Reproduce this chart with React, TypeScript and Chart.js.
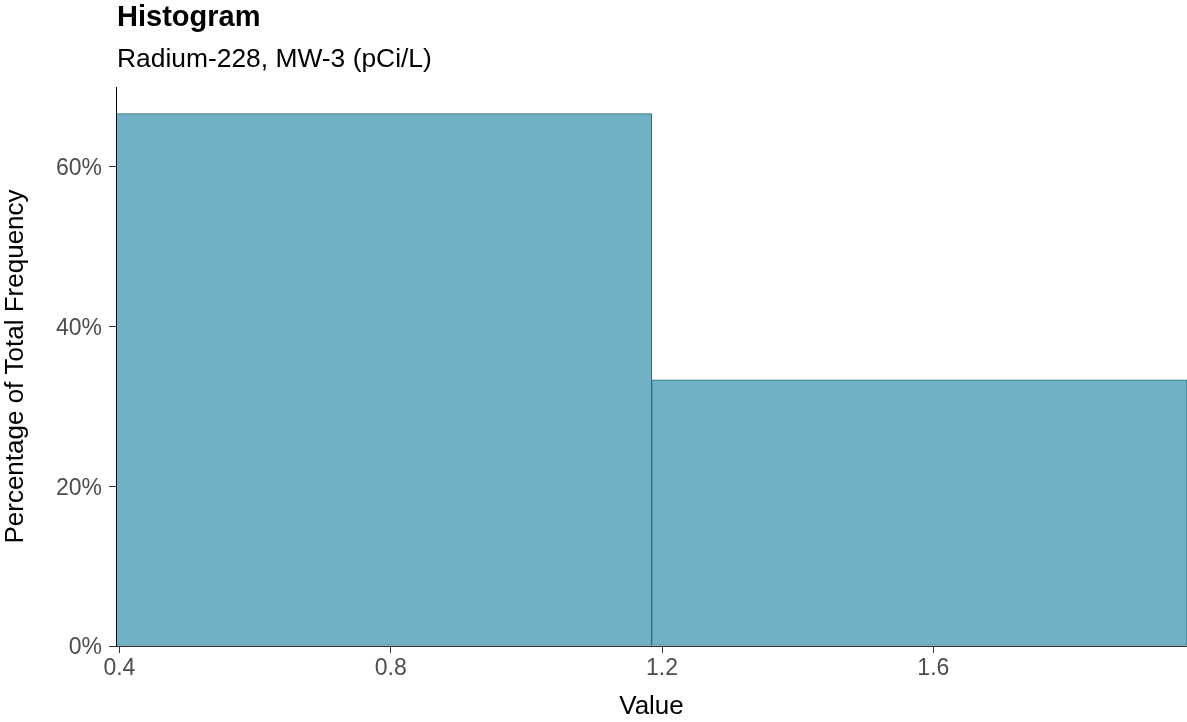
import React, { useEffect, useRef } from "react";
import { Chart, registerables } from "chart.js";

Chart.register(...registerables);

const TITLE = "Histogram";
const SUBTITLE = "Radium-228, MW-3 (pCi/L)";
const X_TITLE = "Value";
const Y_TITLE = "Percentage of Total Frequency";
const BIN_EDGES = [0.395, 1.185, 1.974];
const BIN_PERCENT = [66.67, 33.33];
const X_TICKS = [0.4, 0.8, 1.2, 1.6];
const Y_TICKS = [0, 20, 40, 60];
const Y_MAX = 70;

const FONT = "'Liberation Sans', Arial, Helvetica, sans-serif";

export default function App() {
  const ref = useRef<HTMLCanvasElement>(null);

  useEffect(() => {
    const canvas = ref.current;
    if (!canvas) return;
    const data = BIN_PERCENT.map((p, i) => ({
      x: (BIN_EDGES[i] + BIN_EDGES[i + 1]) / 2,
      y: p,
    }));
    const xMin = BIN_EDGES[0];
    const xMax = BIN_EDGES[BIN_EDGES.length - 1];

    const titlePlugin = {
      id: "ggTitle",
      afterDraw(chart: any) {
        const { ctx, chartArea } = chart;
        ctx.save();
        ctx.fillStyle = "#000000";
        ctx.textAlign = "left";
        ctx.textBaseline = "alphabetic";
        ctx.font = `bold 29px ${FONT}`;
        ctx.fillText(TITLE, chartArea.left + 1, 26);
        ctx.font = `26.4px ${FONT}`;
        ctx.fillText(SUBTITLE, chartArea.left + 1, 67);
        ctx.restore();
      },
    };

    const chart = new Chart(canvas, {
      type: "bar",
      data: {
        datasets: [
          {
            data,
            xAxisID: "xb",
            yAxisID: "y",
            backgroundColor: "#71B1C6",
            borderColor: "#2C6F83",
            borderWidth: 1,
            borderSkipped: false,
            categoryPercentage: 1,
            barPercentage: 1,
          } as any,
        ],
      },
      options: {
        animation: false,
        responsive: false,
        maintainAspectRatio: false,
        layout: { padding: { top: 87, left: 0, right: 0, bottom: 0 } },
        plugins: {
          legend: { display: false },
          tooltip: { enabled: false },
          title: { display: false },
        },
        scales: {
          xb: {
            type: "linear",
            display: false,
            offset: false,
            min: xMin,
            max: xMax,
            grid: { offset: false },
            afterBuildTicks: (s: any) => {
              s.ticks = [];
            },
          },
          x: {
            type: "linear",
            position: "bottom",
            offset: false,
            min: xMin,
            max: xMax,
            afterBuildTicks: (s: any) => {
              s.ticks = X_TICKS.map((v) => ({ value: v }));
            },
            afterFit: (s: any) => {
              s.height = 76;
            },
            grid: {
              offset: false,
              drawOnChartArea: false,
              drawTicks: true,
              tickLength: 7,
              tickColor: "#333333",
              color: "#333333",
            },
            border: { display: true, color: "#333333", width: 1, z: 1 },
            ticks: {
              color: "#4D4D4D",
              font: { family: FONT, size: 23 },
              padding: 2,
              maxRotation: 0,
              autoSkip: false,
              callback: (v: any) => Number(v).toFixed(1),
            },
            title: {
              display: true,
              text: X_TITLE,
              color: "#000000",
              font: { family: FONT, size: 26 },
              padding: { top: 0, bottom: 0 },
            },
          },
          y: {
            type: "linear",
            position: "left",
            min: 0,
            max: Y_MAX,
            afterBuildTicks: (s: any) => {
              s.ticks = Y_TICKS.map((v) => ({ value: v }));
            },
            afterFit: (s: any) => {
              s.width = 116;
            },
            grid: {
              drawOnChartArea: false,
              drawTicks: true,
              tickLength: 7,
              tickColor: "#333333",
              color: "#333333",
            },
            border: { display: true, color: "#000000", width: 1, z: 1 },
            ticks: {
              color: "#4D4D4D",
              font: { family: FONT, size: 23 },
              padding: 7,
              labelOffset: 2,
              autoSkip: false,
              callback: (v: any) => `${v}%`,
            },
            title: {
              display: true,
              text: Y_TITLE,
              color: "#000000",
              font: { family: FONT, size: 26 },
              padding: { top: 0, bottom: 0 },
            },
          },
        },
      } as any,
      plugins: [titlePlugin],
    });
    return () => chart.destroy();
  }, []);

  return (
    <div
      style={{
        position: "fixed",
        left: 0,
        top: 0,
        width: 1187,
        height: 722,
        background: "#ffffff",
      }}
    >
      <canvas
        ref={ref}
        width={1187}
        height={722}
        style={{ display: "block", width: 1187, height: 722 }}
      />
    </div>
  );
}
